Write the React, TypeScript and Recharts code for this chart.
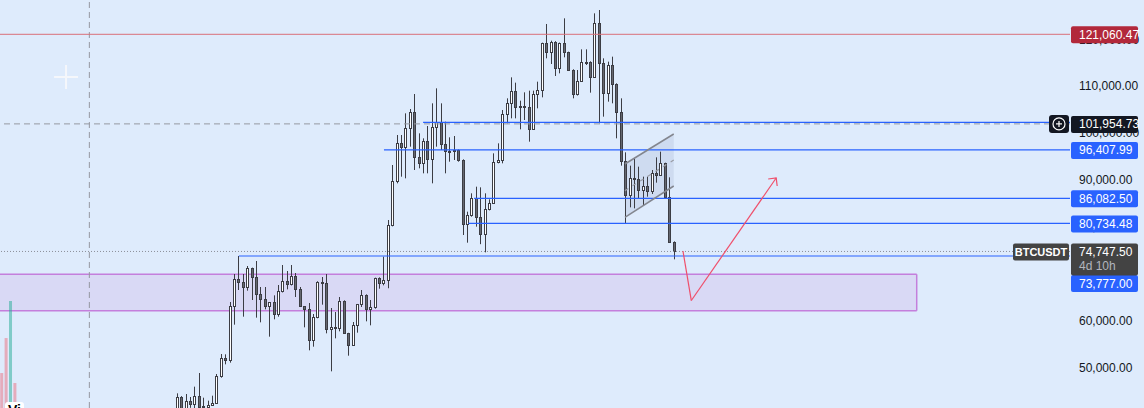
import React from 'react';
import {
  ComposedChart,
  Bar,
  Area,
  XAxis,
  YAxis,
  ReferenceLine,
  ReferenceDot,
} from 'recharts';

const W = 1144;
const H = 408;
const AXIS_W = 74;
const X_MIN = -40.32;
const X_MAX = 203.02;
const Y_MIN = 41363;
const Y_MAX = 128375;
const VOL_MAX = 4000000;

const FONT = "'Liberation Sans', Arial, sans-serif";
const BG = '#deebfc';
const EDGE = '#3c3d44';
const DOWN = '#65676f';
const UP = '#ffffff';
const BLUE = '#2962ff';
const RED = '#ef4f6b';
const ZONE = '#c47fdc';

// weekly BTCUSDT candles
const opens = [
  39900, 43707, 41400, 42855, 42144, 43921, 41646, 41575, 41930, 42357,
  48186, 52025, 51527, 63115, 68802, 68304, 67096, 71219, 69229, 65603,
  64679, 63044, 63897, 61338, 66243, 68376, 67736, 69513, 66669, 63044,
  62546, 55793, 60698, 68162, 68100, 58139, 58565, 58480, 64110, 57286,
  54727, 58992, 63470, 65390, 62546, 62900, 69016, 67949, 68589, 80389,
  89773, 97806, 97095, 101005, 104417, 94962, 93540, 98232, 94393, 101218,
  102427, 97593, 96242, 96200, 96300, 94180, 80531, 82450, 86076, 82166,
  78398, 83730, 85010, 93754, 94251, 104062, 106337, 108967, 105484, 105750,
  105500, 100792, 108328, 109181, 119133, 117214, 119489, 113944, 119133, 117214,
  113446, 108256, 111100, 115081, 115150, 112025, 123399, 114868, 108470, 114512,
  110389, 104560, 94110, 86788, 90342, 90300, 87854, 88707, 87712, 91551,
  91053, 93541, 86432, 76836,
];
const highs = [
  44489, 43900, 44347, 43707, 45913, 48826, 43565, 42926, 43992, 48613,
  52878, 52807, 63968, 69940, 73778, 69940, 71646, 71300, 72712, 67167,
  67167, 63950, 65390, 67593, 71859, 70579, 71859, 70153, 67167, 63100,
  63755, 61409, 68400, 69300, 69940, 62688, 61835, 65034, 64323, 57400,
  59703, 63550, 66527, 65603, 64394, 69158, 69229, 73636, 81455, 93185,
  99583, 99583, 104204, 105128, 108327, 99939, 98872, 101503, 106337, 109536,
  106337, 102427, 99086, 99370, 96500, 94393, 83232, 87142, 88564, 88422,
  87142, 85863, 95673, 97806, 104915, 107404, 111882, 110745, 106906, 108684,
  109039, 109039, 110958, 119276, 123257, 119700, 119600, 119300, 124465, 117356,
  113600, 113446, 117854, 117854, 115300, 125531, 126242, 115934, 115224, 116290,
  110602, 107404, 95887, 93044, 94465, 92831, 90698, 90698, 92120, 94821,
  96029, 93683, 90556, 76900,
];
const lows = [
  39300, 40200, 40500, 41400, 40700, 41500, 40300, 38500, 41800, 42214,
  47830, 50674, 51030, 59134, 66527, 60840, 66385, 64394, 60627, 59631,
  62404, 56575, 60271, 60840, 66000, 66669, 67500, 65034, 62900, 58565,
  53660, 54442, 60500, 63399, 57286, 49182, 56219, 57712, 57200, 52522,
  54600, 57428, 62900, 59845, 58992, 62546, 66811, 67522, 66900, 80100,
  89275, 90697, 90341, 97095, 92118, 92479, 91408, 91408, 89275, 97095,
  96384, 91408, 93896, 94251, 93896, 78256, 76621, 82166, 80034, 76300,
  74559, 83500, 84900, 93540, 93540, 102072, 103138, 103138, 100792, 102783,
  98162, 100649, 105270, 107617, 115934, 114726, 112167, 112735, 116148, 113233,
  107404, 108000, 110900, 114512, 108612, 111882, 102072, 103494, 106693, 106337,
  98873, 93044, 80603, 84157, 83944, 86077, 84442, 86432, 87001, 89418,
  90840, 86077, 76700, 73068,
];
const closes = [
  43707, 41400, 42855, 42144, 43921, 41646, 41790, 42073, 42428, 48186,
  52025, 51527, 63115, 68802, 68304, 67096, 71219, 69229, 65603, 64679,
  63044, 63897, 61338, 66243, 68376, 67736, 69513, 66669, 63044, 62546,
  55793, 60698, 68162, 68100, 58139, 58565, 58480, 64110, 57286, 54727,
  58992, 63470, 65390, 62546, 62900, 69016, 67949, 68589, 80389, 89773,
  97806, 97095, 101005, 104417, 94962, 93540, 98232, 94393, 101218, 102427,
  97593, 96242, 96200, 96300, 94180, 80531, 82450, 86076, 82166, 78398,
  83730, 85010, 93754, 94251, 104062, 106337, 108967, 105484, 105750, 105500,
  100792, 108328, 109181, 119133, 117214, 119489, 113944, 119133, 117214, 113446,
  108256, 111100, 115081, 115150, 112025, 123399, 114868, 108470, 114512, 110389,
  104560, 94110, 86788, 90342, 90300, 87854, 88707, 87712, 91551, 91053,
  93541, 86432, 76836, 74747.5,
];

// volume bars still visible at the far left
const volIdx = [-40, -39, -38, -37];
const volumes = [343000, 686000, 1049000, 245000];
const volUp = [false, false, true, false];

const priceTicks = [50000, 60000, 70000, 80000, 90000, 100000, 110000, 120000];

// price tags on the scale (drawn after the plain ticks, so on top of them)
const tagPrices = [121060.47, 96407.99, 86082.5, 80734.48, 73777, 74747.5, 101954.73];
const tagColors = ['#b2283b', BLUE, BLUE, BLUE, BLUE, '#434343', '#131722'];
const tagShift = [0, 0, 0, 0, 27, 0, 0];
const tagSub = ['', '', '', '', '', '4d 10h', ''];
const tagName = ['', '', '', '', '', 'BTCUSDT', ''];
const tagCross = [false, false, false, false, false, false, true];

// drawings
const redLevel = 121060.47;
const crossPrice = 101954.73;
const crossIdx = -20;
const lastPrice = 74747.5;
const blueLevels = [102292, 96407.99, 86082.5, 80734.48, 73777];
const blueFrom = [55.9, 47, 67.5, 66.2, 14];
const zoneIdx = [X_MIN, 168.16];
const zoneTop = 69875;
const zoneBottom = 62112;
const chanIdx = [101.8, 112.9];
const chanTop = [93399, 99797];
const chanBottom = [82032, 88708];
const arrowIdx = [115.0, 116.9, 136.2];
const arrowPrice = [74843, 64283, 90411];
const plusIdx = -25.3;
const plusPrice = 111953;

const fmt = (v: number) =>
  v.toLocaleString('en-US', { minimumFractionDigits: 2, maximumFractionDigits: 2 });

const candleRows = opens.map((o, k) => ({
  i: k,
  o,
  h: highs[k],
  l: lows[k],
  c: closes[k],
  range: [lows[k], highs[k]],
}));
const volRows = volIdx.map((i, k) => ({ i, vol: volumes[k], up: volUp[k] }));
const rows: any[] = [...volRows, ...candleRows];
const chanRows = chanIdx.map((i, k) => ({ i, band: [chanBottom[k], chanTop[k]] }));
const zoneRows = zoneIdx.map((i) => ({ i, zone: [zoneBottom, zoneTop] }));

const CandleShape = (props: any) => {
  const { x, y, width, height, payload } = props;
  if (!payload || payload.o == null || !isFinite(y) || !isFinite(height)) return <g />;
  const { o, h, l, c } = payload;
  const yTop = Math.min(y, y + height);
  const hgt = Math.abs(height);
  const cx = Math.floor(x + width / 2) + 0.5;
  const k = hgt / (h - l || 1);
  const yOf = (v: number) => yTop + (h - v) * k;
  const top = Math.round(yOf(Math.max(o, c))) + 0.5;
  const bottom = Math.round(yOf(Math.min(o, c))) + 0.5;
  return (
    <g>
      <line x1={cx} x2={cx} y1={yTop} y2={yTop + hgt} stroke={EDGE} strokeWidth={1} />
      <rect
        x={cx - 1}
        y={top}
        width={2}
        height={Math.max(bottom - top, 1)}
        fill={c >= o ? UP : DOWN}
        stroke={EDGE}
        strokeWidth={1}
      />
    </g>
  );
};

const VolShape = (props: any) => {
  const { x, y, width, height, payload } = props;
  if (!payload || payload.vol == null || !isFinite(y)) return <g />;
  return (
    <rect
      x={x}
      y={y}
      width={width}
      height={height}
      fill={payload.up ? 'rgba(34,171,148,0.5)' : 'rgba(242,54,69,0.35)'}
    />
  );
};

const AxisTick = (props: any) => {
  const { x, y, payload } = props;
  const v = payload.value;
  const t = tagPrices.indexOf(v);
  if (t < 0) {
    return (
      <text x={x} y={y} dy="0.355em" fill="#131722" fontSize={12} fontFamily={FONT}>
        {fmt(v)}
      </text>
    );
  }
  const right = x - 9; // right edge of the plot
  const top = y + tagShift[t] - 8;
  const h = tagSub[t] ? 32 : 17;
  return (
    <g>
      {tagCross[t] && (
        <g>
          <rect x={right - 21} y={y - 9} width={20} height={18} rx={3} fill="#131722" />
          <circle cx={right - 11} cy={y} r={6} fill="none" stroke="#fff" strokeWidth={1.2} />
          <line x1={right - 14} x2={right - 8} y1={y} y2={y} stroke="#fff" strokeWidth={1.2} />
          <line x1={right - 11} x2={right - 11} y1={y - 3} y2={y + 3} stroke="#fff" strokeWidth={1.2} />
        </g>
      )}
      {tagName[t] && (
        <g>
          <rect x={right - 57} y={top} width={56} height={17} rx={2} fill={tagColors[t]} />
          <text x={right - 29} y={top + 12.5} textAnchor="middle" fill="#fff" fontSize={11} fontWeight="bold" fontFamily={FONT}>
            {tagName[t]}
          </text>
        </g>
      )}
      <rect x={right + 1} y={top} width={67} height={h} rx={2} fill={tagColors[t]} />
      <text x={x} y={top + 12.5} fill="#fff" fontSize={12} fontFamily={FONT}>
        {fmt(v)}
      </text>
      {tagSub[t] && (
        <text x={x} y={top + 27} fill="#b2b5be" fontSize={12} fontFamily={FONT}>
          {tagSub[t]}
        </text>
      )}
    </g>
  );
};

const ArrowHead = (props: any) => {
  const { cx, cy } = props;
  return (
    <path
      d={`M${cx - 8},${cy + 1} L${cx},${cy} L${cx + 1},${cy + 8}`}
      stroke={RED}
      strokeWidth={1.2}
      fill="none"
    />
  );
};

const PlusMark = (props: any) => {
  const { cx, cy } = props;
  return (
    <g stroke="#f5f7fb" strokeWidth={2}>
      <line x1={cx - 12} x2={cx + 12} y1={cy} y2={cy} />
      <line x1={cx} x2={cx} y1={cy - 12} y2={cy + 12} />
    </g>
  );
};

const ids = { xAxisId: 'p', yAxisId: 'p' };

export default function App() {
  return (
    <div
      style={{
        position: 'absolute',
        left: 0,
        top: 0,
        width: W,
        height: H,
        background: BG,
        overflow: 'hidden',
      }}
    >
      <ComposedChart width={W} height={H} data={rows} margin={{ top: 0, right: 0, bottom: 0, left: 0 }}>
        <XAxis xAxisId="p" dataKey="i" type="number" domain={[X_MIN, X_MAX]} allowDataOverflow hide />
        <XAxis xAxisId="v" dataKey="i" type="number" domain={[X_MIN, X_MAX]} allowDataOverflow hide />
        <YAxis
          yAxisId="p"
          orientation="right"
          type="number"
          domain={[Y_MIN, Y_MAX]}
          allowDataOverflow
          ticks={[...priceTicks, ...tagPrices]}
          interval={0}
          width={AXIS_W}
          axisLine={false}
          tickLine={false}
          tickMargin={3}
          tick={AxisTick}
        />
        <YAxis yAxisId="vol" type="number" domain={[0, VOL_MAX]} allowDataOverflow hide />

        <Area
          {...ids}
          data={zoneRows}
          dataKey="zone"
          type="linear"
          stroke={ZONE}
          strokeWidth={1.5}
          fill="rgba(186,104,200,0.13)"
          fillOpacity={1}
          dot={false}
          activeDot={false}
          isAnimationActive={false}
        />
        <ReferenceLine
          {...ids}
          segment={[{ x: zoneIdx[1], y: zoneBottom }, { x: zoneIdx[1], y: zoneTop }]}
          stroke={ZONE}
          strokeWidth={1.5}
        />

        <Bar xAxisId="v" yAxisId="vol" dataKey="vol" barSize={3} shape={VolShape} isAnimationActive={false} />

        <ReferenceLine {...ids} x={crossIdx} stroke="#9598a1" strokeDasharray="6 4" />
        <ReferenceLine {...ids} y={crossPrice} stroke="#9598a1" strokeDasharray="6 4" />
        <ReferenceLine {...ids} y={lastPrice} stroke="#8c8f99" strokeDasharray="1 2" />
        <ReferenceLine {...ids} y={redLevel} stroke="#d9707a" />
        {blueLevels.map((p, k) => (
          <ReferenceLine
            key={`bl-${k}`}
            {...ids}
            segment={[{ x: blueFrom[k], y: p }, { x: X_MAX, y: p }]}
            stroke={BLUE}
            strokeWidth={1.2}
          />
        ))}

        <Area
          {...ids}
          data={chanRows}
          dataKey="band"
          type="linear"
          stroke="none"
          fill="rgba(150,165,200,0.22)"
          fillOpacity={1}
          dot={false}
          activeDot={false}
          isAnimationActive={false}
        />

        <Bar {...ids} dataKey="range" barSize={3} shape={CandleShape} isAnimationActive={false} />

        <ReferenceLine
          {...ids}
          segment={[{ x: chanIdx[0], y: chanTop[0] }, { x: chanIdx[1], y: chanTop[1] }]}
          stroke="#83868f"
          strokeWidth={1.5}
        />
        <ReferenceLine
          {...ids}
          segment={[{ x: chanIdx[0], y: chanBottom[0] }, { x: chanIdx[1], y: chanBottom[1] }]}
          stroke="#83868f"
          strokeWidth={1.5}
        />
        <ReferenceLine
          {...ids}
          segment={[
            { x: chanIdx[0], y: (chanTop[0] + chanBottom[0]) / 2 },
            { x: chanIdx[1], y: (chanTop[1] + chanBottom[1]) / 2 },
          ]}
          stroke="#9a9da5"
          strokeWidth={1.2}
          strokeDasharray="4 5"
        />

        {arrowIdx.slice(1).map((ai, k) => (
          <ReferenceLine
            key={`ar-${k}`}
            {...ids}
            segment={[
              { x: arrowIdx[k], y: arrowPrice[k] },
              { x: ai, y: arrowPrice[k + 1] },
            ]}
            stroke={RED}
            strokeWidth={1.2}
          />
        ))}
        <ReferenceDot {...ids} x={arrowIdx[2]} y={arrowPrice[2]} r={0} shape={ArrowHead} />
        <ReferenceDot {...ids} x={plusIdx} y={plusPrice} r={0} shape={PlusMark} />
      </ComposedChart>
      <div
        style={{
          position: 'absolute',
          left: 5,
          top: 402,
          fontFamily: FONT,
          fontWeight: 'bold',
          fontSize: 14,
          lineHeight: '16px',
          color: '#000',
          background: '#fff',
          borderRadius: 3,
          padding: '0 3px',
        }}
      >
        Vi
      </div>
    </div>
  );
}
